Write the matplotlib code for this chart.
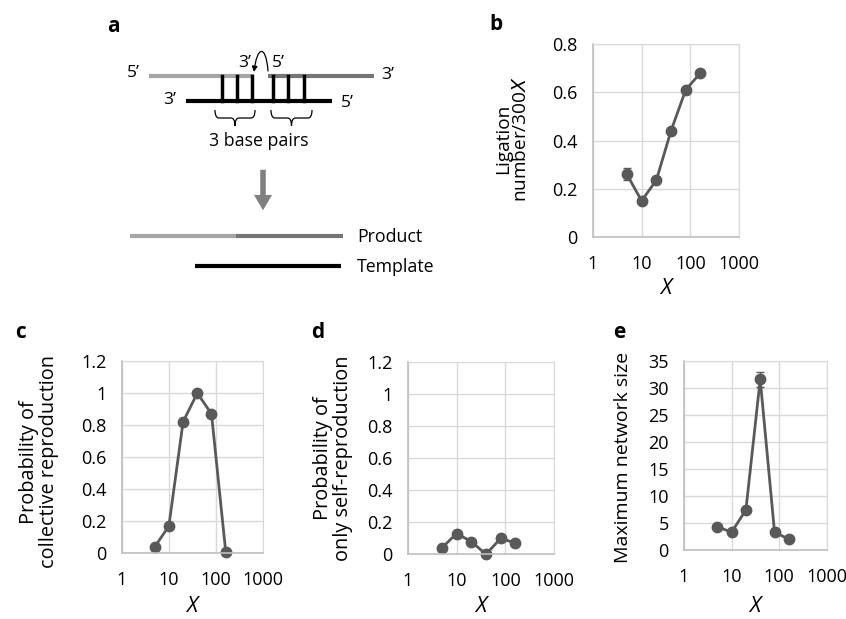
import matplotlib.pyplot as plt
from matplotlib.path import Path
from matplotlib.patches import PathPatch, FancyArrowPatch

plt.rcParams['font.family'] = ['Open Sans', 'DejaVu Sans']

# data
x_vals = [5, 10, 20, 40, 80, 160]
ligation = [0.26, 0.15, 0.235, 0.44, 0.61, 0.68]
ligation_err = [0.025, 0.005, 0.005, 0.005, 0.005, 0.005]
collective = [0.04, 0.17, 0.82, 1.0, 0.87, 0.01]
self_only = [0.04, 0.13, 0.08, 0.0, 0.10, 0.07]
network = [4.3, 3.3, 7.4, 31.6, 3.3, 2.0]
network_err = [0.2, 0.2, 0.3, 1.4, 0.2, 0.1]
x_ticks = [1, 10, 100, 1000]
x_ticklabels = ['1', '10', '100', '1000']

line_col = '#595959'
grid_col = '#d9d9d9'

fig = plt.figure(figsize=(8.46, 6.19), dpi=100)


def panel(rect, y, yerr, yticks, yticklabels, ylim):
    ax = fig.add_axes(rect)
    ax.set_xscale('log')
    ax.set_xlim(1, 1000)
    ax.set_ylim(*ylim)
    ax.set_xticks(x_ticks)
    ax.set_xticklabels(x_ticklabels)
    ax.minorticks_off()
    ax.set_yticks(yticks)
    ax.set_yticklabels(yticklabels)
    ax.grid(True, color=grid_col, lw=1)
    ax.set_axisbelow(True)
    for s in ['top', 'right']:
        ax.spines[s].set_color(grid_col)
    for s in ['left', 'bottom']:
        ax.spines[s].set_color('#bfbfbf')
        ax.spines[s].set_linewidth(1.2)
    ax.tick_params(length=0, labelsize=13, colors='#000000')
    ax.tick_params(axis='x', pad=13)
    ax.tick_params(axis='y', pad=11)
    ax.errorbar(x_vals, y, yerr=yerr, color=line_col, lw=2, marker='o',
                ms=7.5, capsize=3, elinewidth=1, capthick=1, clip_on=False)
    return ax


ax_b = panel([0.7006, 0.6171, 0.1733, 0.3118], ligation, ligation_err,
             [0, 0.2, 0.4, 0.6, 0.8], ['0', '0.2', '0.4', '0.6', '0.8'], (0, 0.8))
ax_c = panel([0.1438, 0.1061, 0.1674, 0.3107], collective, None,
             [0, 0.2, 0.4, 0.6, 0.8, 1.0, 1.2],
             ['0', '0.2', '0.4', '0.6', '0.8', '1', '1.2'], (0, 1.2))
ax_d = panel([0.4819, 0.1045, 0.1733, 0.3102], self_only, None,
             [0, 0.2, 0.4, 0.6, 0.8, 1.0, 1.2],
             ['0', '0.2', '0.4', '0.6', '0.8', '1', '1.2'], (0, 1.2))
ax_e = panel([0.8085, 0.1115, 0.1687, 0.3053], network, network_err,
             [0, 5, 10, 15, 20, 25, 30, 35],
             ['0', '5', '10', '15', '20', '25', '30', '35'], (0, 35))

# overlay in pixel coordinates for the schematic and labels
ov = fig.add_axes([0, 0, 1, 1], zorder=-1)
ov.set_xlim(0, 846)
ov.set_ylim(619, 0)
ov.axis('off')

def ftext(x, y, s, **kw):
    ov.text(x, y, s, ha=kw.pop('ha', 'center'), va=kw.pop('va', 'center'), **kw)

# y labels
ftext(512, 139, 'Ligation\nnumber/300$\\it{X}$', rotation=90, fontsize=13.7, linespacing=1.05)
ftext(39, 462, 'Probability of\ncollective reproduction', rotation=90, fontsize=14.3, linespacing=1.05)
ftext(333, 458, 'Probability of\nonly self-reproduction', rotation=90, fontsize=14.3, linespacing=1.05)
ftext(623, 457, 'Maximum network size', rotation=90, fontsize=14)

# x labels
for xc, yc in [(666, 288), (192, 606), (481, 606), (755, 606)]:
    ftext(xc, yc, 'X', fontsize=15.5, style='italic')

# panel letters
for s, xc, yc in [('a', 113, 26), ('b', 496, 25), ('c', 20, 333), ('d', 318, 333), ('e', 619, 333)]:
    ftext(xc, yc, s, fontsize=15, fontweight='bold')

# schematic (panel a)
light = '#a6a6a6'
dark = '#767676'
ov.plot([149, 254], [75.7, 75.7], color=light, lw=3, solid_capstyle='butt')
ov.plot([268, 374], [75.7, 75.7], color=dark, lw=3, solid_capstyle='butt')
ov.plot([186, 332], [100.7, 100.7], color='black', lw=3, solid_capstyle='butt')
for xb in [221.7, 236.7, 251.7, 273.3, 288.3, 304]:
    ov.plot([xb, xb], [75.7, 100.7], color='black', lw=2.5)


def brace(x0, x1, y, h):
    xm = (x0 + x1) / 2
    verts = [(x0, y), (x0, y + h / 2), (x0 + 4, y + h / 2), (xm - 4, y + h / 2),
             (xm, y + h / 2), (xm, y + h),
             (xm, y + h / 2), (xm + 4, y + h / 2), (x1 - 4, y + h / 2),
             (x1, y + h / 2), (x1, y)]
    codes = [Path.MOVETO, Path.CURVE3, Path.CURVE3, Path.LINETO,
             Path.CURVE3, Path.CURVE3,
             Path.CURVE3, Path.CURVE3, Path.LINETO,
             Path.CURVE3, Path.CURVE3]
    ov.add_patch(PathPatch(Path(verts, codes), fill=False, lw=0.9, color='black'))


brace(215, 255, 110, 16)
brace(271, 312, 110, 16)
ftext(259, 141, '3 base pairs', fontsize=12.8)

pk = dict(fontsize=12.5)
ftext(133, 73, '5\u2019', **pk)
ftext(245, 63, '3\u2019', **pk)
ftext(278, 63, '5\u2019', **pk)
ftext(388, 75, '3\u2019', **pk)
ftext(170, 100, '3\u2019', **pk)
ftext(347, 103, '5\u2019', **pk)

# curved arrow for ligation
arc = Path([(268, 71), (266, 44), (257, 46), (254, 72)],
           [Path.MOVETO, Path.CURVE4, Path.CURVE4, Path.CURVE4])
ov.add_patch(FancyArrowPatch(path=arc, arrowstyle='-|>', mutation_scale=8,
                             lw=0.9, color='black'))

# big grey arrow
ov.add_patch(FancyArrowPatch((263, 167), (263, 213), arrowstyle='simple,head_width=1.3,head_length=1.1,tail_width=0.4',
                             mutation_scale=10, color='#808080', lw=0))

ov.plot([130, 236], [236, 236], color=light, lw=3, solid_capstyle='butt')
ov.plot([236, 343], [236, 236], color=dark, lw=3, solid_capstyle='butt')
ov.plot([195, 341], [266, 266], color='black', lw=3, solid_capstyle='butt')
ftext(357, 237, 'Product', fontsize=12.8, ha='left')
ftext(357, 267, 'Template', fontsize=12.8, ha='left')

plt.savefig('out.png', dpi=100)
